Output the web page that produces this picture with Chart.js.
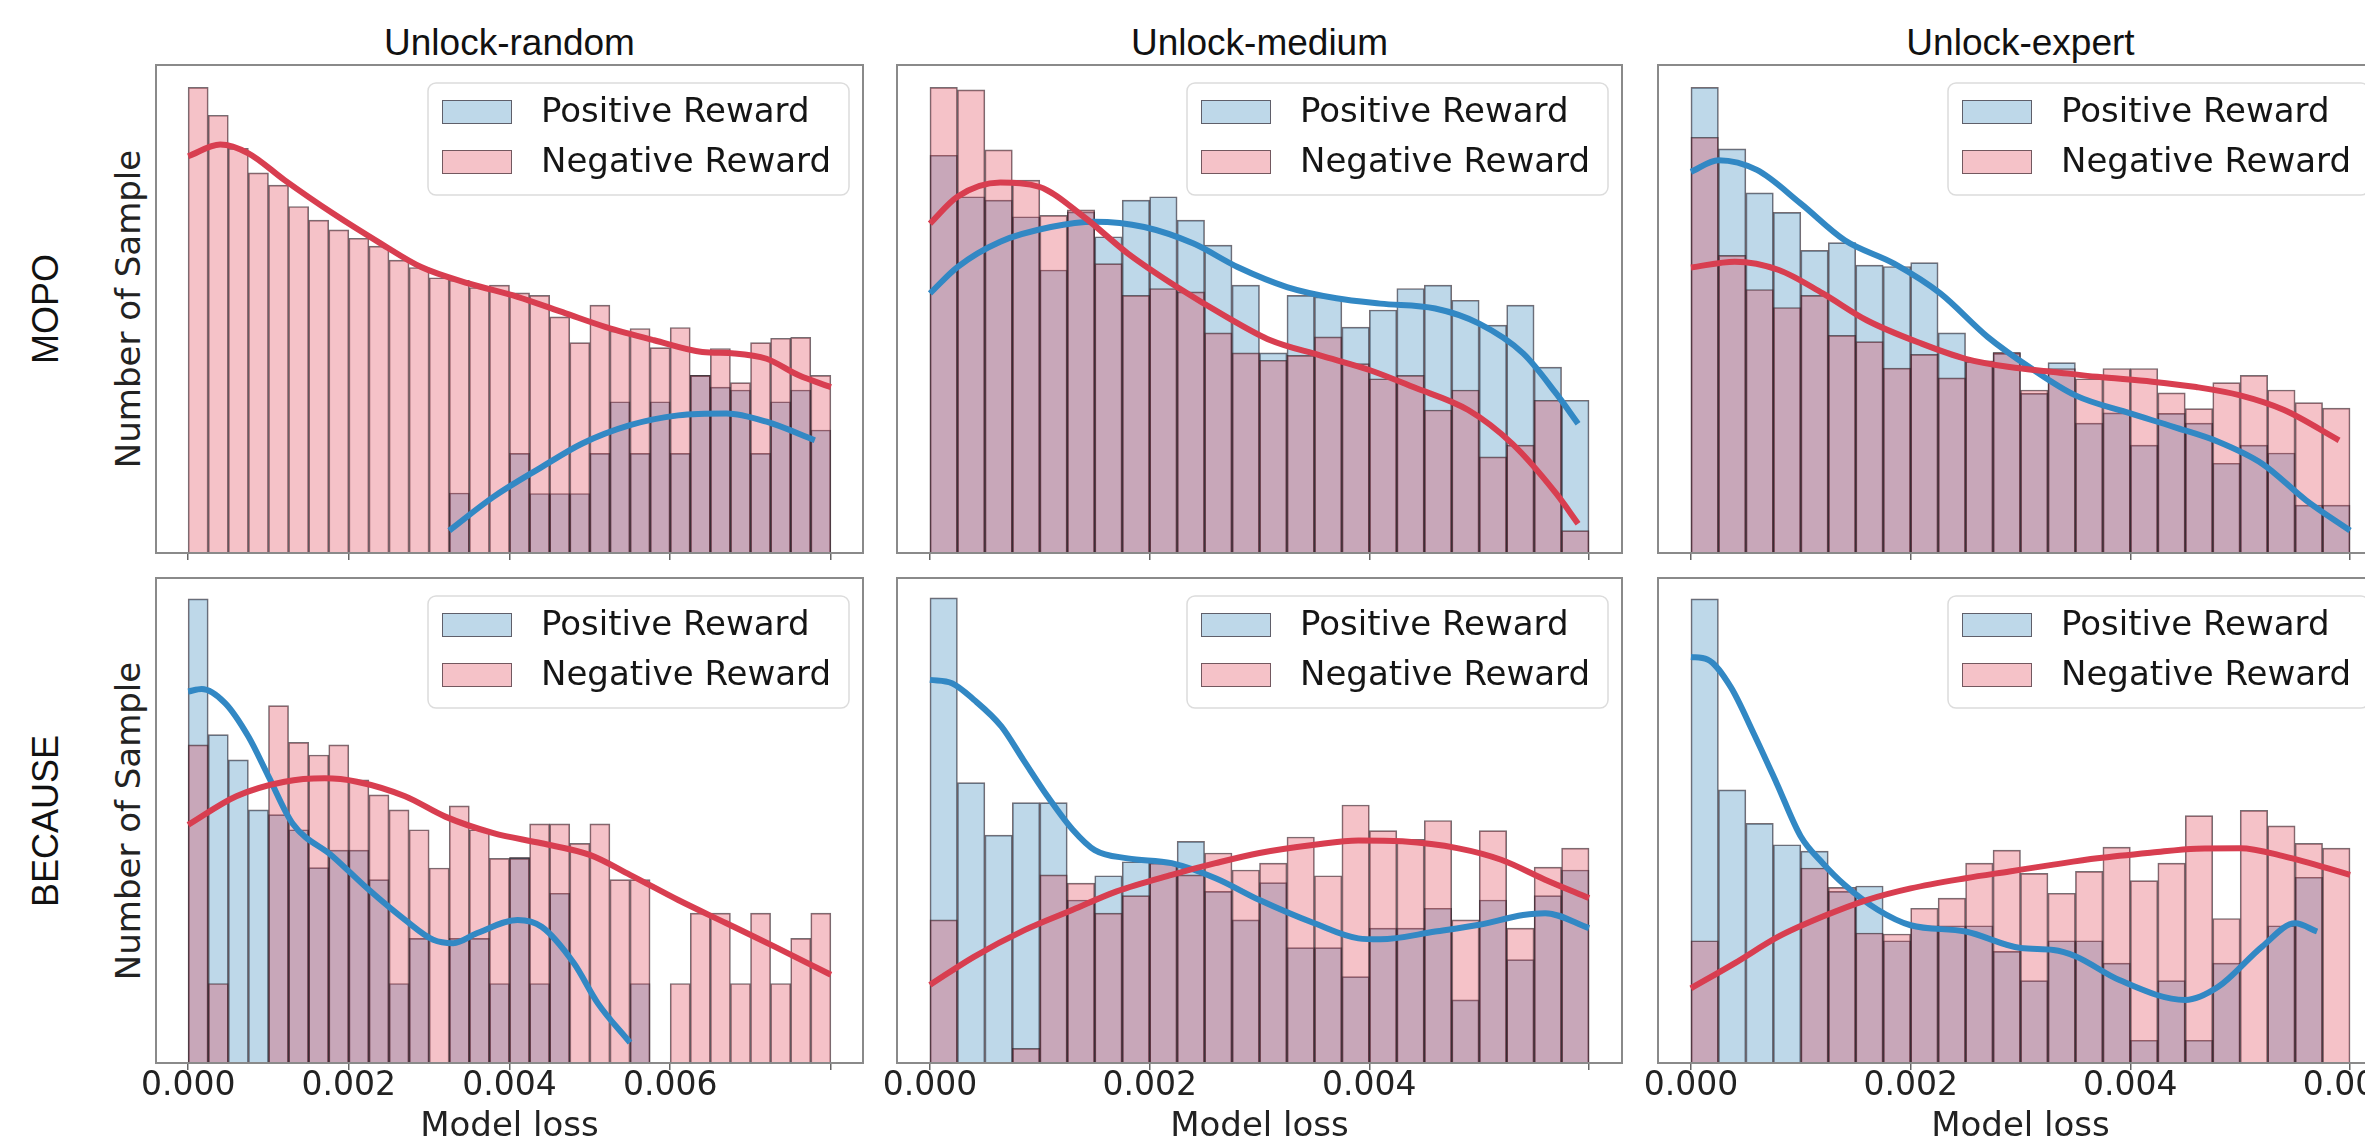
<!DOCTYPE html>
<html>
<head>
<meta charset="utf-8">
<script src="https://cdn.jsdelivr.net/npm/chart.js@4.4.0/dist/chart.umd.min.js"></script>
<style>
  body { margin: 0; width: 2365px; height: 1144px; overflow: hidden; background: #fff; position: relative; }
  .lbl { position: absolute; white-space: nowrap; line-height: 1; color: #111; }
  .title { font-family: "Liberation Sans", Arial, sans-serif; font-size: 37px; transform: translate(-50%, -50%); }
  .row { font-family: "Liberation Sans", Arial, sans-serif; font-size: 36px; transform: translate(-50%, -50%) rotate(-90deg); }
  .ylab { font-family: "DejaVu Sans", sans-serif; font-size: 34px; color: #222; transform: translate(-50%, -50%) rotate(-90deg); }
</style>
</head>
<body>
<script>
// bin width of every histogram (model loss)
const binWidth = 0.00025;
const xTickValues = [0, 0.002, 0.004, 0.006, 0.008];
const lastTickLabel = [0.006, 0.004, 0.006];
const columnTitles = ['Unlock-random', 'Unlock-medium', 'Unlock-expert'];
const rowLabels = ['MOPO', 'BECAUSE'];
const legendLabels = ['Positive Reward', 'Negative Reward'];

// bar heights, in % of the axis height (y axis is unlabelled)
// MOPO / Unlock-random
const mopoRandomPos = [0, 0, 0, 0, 0, 0, 0, 0, 0, 0, 0, 0, 0, 12.3, 0, 0, 20.4, 12.2, 12.2, 12.2, 20.4, 31, 20.4, 31, 20.4, 36.4, 34, 33.4, 20.4, 31, 33.4, 25.2];
const mopoRandomNeg = [95.4, 89.7, 82.9, 77.9, 75.4, 71, 68.2, 66.2, 64.5, 62.9, 60, 58.5, 56.4, 55.9, 54.4, 54.9, 53.3, 52.8, 48.4, 43.1, 50.8, 45.5, 46, 42.1, 46.2, 36.4, 41.9, 34.9, 43.1, 44, 44.2, 36.4];
const mopoRandomPosKde = [[0.00325, 4.6], [0.0038, 11.5], [0.0044, 17.6], [0.0049, 22.4], [0.0055, 26.2], [0.0061, 28.2], [0.0067, 28.6], [0.0072, 26.9], [0.0078, 23.1]];
const mopoRandomNegKde = [[0, 81.3], [0.0004, 83.7], [0.00075, 81.9], [0.0012, 76.4], [0.0018, 69.6], [0.0024, 63.4], [0.0029, 58.6], [0.0035, 55.2], [0.0041, 52.5], [0.0047, 49.1], [0.0052, 46.3], [0.0058, 43.6], [0.0064, 41.2], [0.0068, 40.9], [0.0072, 39.8], [0.0076, 36.4], [0.008, 34]];

// MOPO / Unlock-medium
const mopoMediumPos = [81.5, 73.0, 72.3, 68.9, 58.0, 69.9, 64.8, 72.3, 73.0, 68.2, 63.1, 54.9, 41.0, 52.8, 52.5, 46.3, 49.8, 54.2, 54.9, 51.8, 46.7, 50.8, 38.1, 31.3];
const mopoMediumNeg = [95.4, 94.9, 82.6, 76.4, 69.2, 70.3, 59.3, 52.8, 54.2, 53.5, 45.1, 41.0, 39.5, 40.5, 44.3, 38.8, 35.7, 36.4, 29.3, 33.4, 19.7, 22.1, 31.3, 4.6];
const mopoMediumPosKde = [[0, 53.2], [0.00025, 58.6], [0.00064, 63.8], [0.0011, 66.8], [0.0015, 67.9], [0.00195, 66.8], [0.0024, 63.4], [0.0028, 58.6], [0.00325, 54.5], [0.0037, 52.2], [0.0041, 51.1], [0.0046, 50.1], [0.005, 47], [0.0054, 40.9], [0.0057, 32.7], [0.0059, 26.5]];
const mopoMediumNegKde = [[0, 67.5], [0.00025, 73], [0.00064, 75.9], [0.001, 75], [0.0014, 68.9], [0.0018, 61.4], [0.00225, 54.5], [0.0027, 48.4], [0.0031, 43.6], [0.00355, 40.5], [0.004, 37.5], [0.0044, 34], [0.0049, 29.3], [0.0053, 22.4], [0.0057, 12.2], [0.0059, 6.0]];

// MOPO / Unlock-expert
const mopoExpertPos = [95.4, 82.8, 73.8, 69.8, 62.0, 63.6, 59.0, 58.7, 59.5, 45.1, 39.2, 40.9, 32.7, 39.0, 26.6, 28.7, 22.1, 28.6, 26.6, 18.4, 22.1, 20.5, 9.8, 9.8];
const mopoExpertNeg = [85.2, 61.0, 54.0, 50.3, 52.8, 44.6, 43.3, 37.9, 40.7, 35.9, 39.4, 41.1, 33.4, 37.8, 35.7, 37.8, 37.8, 32.8, 29.6, 34.9, 36.4, 33.4, 30.8, 29.7];
const mopoExpertPosKde = [[0, 78.1], [0.00025, 80.5], [0.0006, 78.5], [0.001, 71.6], [0.0014, 64.1], [0.00185, 59.3], [0.00227, 53.2], [0.0027, 44.3], [0.0031, 37.8], [0.0035, 32.3], [0.004, 28.6], [0.0044, 25.8], [0.0048, 22.8], [0.0052, 18.3], [0.0056, 10.8], [0.006, 4.6]];
const mopoExpertNegKde = [[0, 58.5], [0.0004, 59.7], [0.0008, 58], [0.0012, 53.2], [0.0016, 47.7], [0.0021, 42.9], [0.0025, 39.8], [0.0029, 38.1], [0.0033, 37.1], [0.0037, 36.1], [0.0042, 35.1], [0.0046, 34], [0.005, 32.3], [0.0054, 29.3], [0.0059, 23.1]];

// BECAUSE / Unlock-random
const becauseRandomPos = [95.7, 67.7, 62.5, 52.2, 51.2, 48.1, 40.3, 43.9, 43.9, 37.8, 16.4, 25.7, 0, 25.7, 25.7, 16.4, 42.4, 16.4, 35.0, 0, 0, 0, 16.4, 0, 0, 0, 0, 0, 0, 0, 0, 0];
const becauseRandomNeg = [65.6, 16.4, 0, 0, 73.7, 66.1, 63.5, 65.6, 58.4, 55.3, 52.2, 48.1, 40.2, 53.0, 48.1, 42.2, 42.2, 49.3, 49.3, 45.3, 49.3, 37.8, 37.8, 0, 16.4, 30.9, 30.9, 16.4, 30.9, 16.4, 25.7, 30.9];
const becauseRandomPosKde = [[0, 76.6], [0.00017, 77.1], [0.00046, 74.2], [0.00075, 67.3], [0.001, 59.1], [0.0013, 49.4], [0.0018, 42.6], [0.00225, 35.7], [0.0027, 29.5], [0.00305, 25.4], [0.0033, 24.7], [0.0036, 26.8], [0.0041, 29.5], [0.0044, 28.1], [0.0048, 20.6], [0.0051, 12.3], [0.0055, 4.2]];
const becauseRandomNegKde = [[0, 49.1], [0.0006, 55], [0.0012, 58], [0.0017, 58.7], [0.0021, 58], [0.0027, 55], [0.0032, 50.8], [0.0038, 47.4], [0.0044, 45.3], [0.005, 42.9], [0.0055, 38.8], [0.0061, 33.6], [0.0067, 28.8], [0.0073, 24], [0.008, 18.2]];

// BECAUSE / Unlock-medium
const becauseMediumPos = [95.9, 57.8, 47.0, 53.7, 53.7, 33.6, 38.6, 41.5, 41.2, 45.7, 35.4, 29.5, 37.2, 23.8, 23.8, 17.8, 27.8, 27.8, 31.9, 13.0, 33.6, 21.3, 34.5, 39.8];
const becauseMediumNeg = [29.5, 0, 0, 3, 38.8, 37.1, 30.9, 34.5, 41.3, 38.8, 43.3, 39.8, 41.2, 46.6, 38.6, 53.2, 47.9, 46.1, 50.0, 29.5, 47.9, 27.8, 40.4, 44.3];
const becauseMediumPosKde = [[0, 79], [0.0002, 78.3], [0.0004, 74.9], [0.00065, 69.4], [0.00085, 62.5], [0.00107, 55], [0.0013, 48.1], [0.0015, 43.9], [0.0018, 42.2], [0.0022, 41.2], [0.0026, 38.1], [0.003, 33.6], [0.0035, 28.8], [0.0039, 25.7], [0.0041, 25.5], [0.0046, 27.1], [0.005, 28.5], [0.0054, 30.5], [0.0056, 30.9], [0.006, 27.8]];
const becauseMediumNegKde = [[0, 16.1], [0.0004, 21.9], [0.00086, 27.4], [0.0013, 31.6], [0.0017, 35.4], [0.0022, 38.8], [0.0026, 41.2], [0.003, 43.3], [0.0035, 45], [0.0039, 45.9], [0.0043, 45.7], [0.0048, 44.3], [0.0052, 41.9], [0.0056, 37.8], [0.006, 34]];

// BECAUSE / Unlock-expert
const becauseExpertPos = [95.7, 56.3, 49.4, 45.0, 43.7, 35.4, 36.5, 25.2, 28.3, 28.3, 28.3, 23.0, 17.0, 25.2, 25.2, 20.6, 4.7, 17.0, 4.7, 20.6, 0, 28.3, 38.3, 0];
const becauseExpertNeg = [25.2, 0, 0, 0, 40.2, 36.2, 26.8, 26.6, 31.9, 34.0, 41.2, 43.9, 39.1, 35.0, 39.5, 44.5, 37.6, 41.2, 51.0, 29.8, 52.1, 48.9, 45.3, 44.3];
const becauseExpertPosKde = [[0, 83.7], [0.00015, 83.2], [0.00036, 77.6], [0.00057, 68], [0.00078, 57.7], [0.001, 46.7], [0.0012, 41.2], [0.0014, 36.7], [0.0017, 31.6], [0.002, 28.4], [0.0025, 27.1], [0.003, 23.7], [0.0033, 23.3], [0.0035, 22], [0.0039, 17.1], [0.0045, 13], [0.0048, 15.7], [0.0052, 24], [0.0055, 28.8], [0.0057, 27.1]];
const becauseExpertNegKde = [[0, 15.4], [0.0004, 20.6], [0.0008, 26.1], [0.0012, 30.2], [0.0016, 33.6], [0.002, 36], [0.0025, 38.1], [0.0029, 39.5], [0.0033, 40.9], [0.0037, 42.2], [0.0042, 43.4], [0.0046, 44.2], [0.005, 44.3], [0.0054, 42.6], [0.006, 38.8]];

// page layout of the six axes frames
const colLeft = [156, 897, 1658];
const colWidth = [707, 725, 725];
const rowTop = [65, 578];
const rowHeight = [488, 485];

const blueFill = 'rgba(31,119,180,0.29)';
const pinkFill = 'rgba(222,52,72,0.3)';
const blueLine = 'rgb(50,136,196)';
const redLine = 'rgb(216,62,80)';
const edgeColor = 'rgba(45,30,38,0.65)';

Chart.defaults.font.family = '"DejaVu Sans", sans-serif';

const framePlugin = {
  id: 'frame',
  afterDraw(chart) {
    const { ctx, chartArea: a } = chart;
    ctx.save();
    ctx.strokeStyle = '#8a8a8a';
    ctx.lineWidth = 2;
    ctx.strokeRect(a.left, a.top, a.right - a.left, a.bottom - a.top);
    ctx.restore();
  }
};

const legendPlugin = {
  id: 'rewardLegend',
  afterDraw(chart) {
    const { ctx, chartArea: a } = chart;
    const w = 421, h = 112, r = 8;
    const x = a.right - 14 - w, y = a.top + 18;
    ctx.save();
    ctx.beginPath();
    ctx.moveTo(x + r, y);
    ctx.arcTo(x + w, y, x + w, y + h, r);
    ctx.arcTo(x + w, y + h, x, y + h, r);
    ctx.arcTo(x, y + h, x, y, r);
    ctx.arcTo(x, y, x + w, y, r);
    ctx.closePath();
    ctx.fillStyle = 'rgba(255,255,255,0.85)';
    ctx.fill();
    ctx.strokeStyle = '#dcdcdc';
    ctx.lineWidth = 1.5;
    ctx.stroke();
    const fills = [blueFill, pinkFill];
    ctx.font = '34px "DejaVu Sans"';
    ctx.textBaseline = 'middle';
    legendLabels.forEach((label, i) => {
      const py = y + 17 + i * 50;
      ctx.fillStyle = '#fff';
      ctx.fillRect(x + 14, py, 70, 24);
      ctx.fillStyle = fills[i];
      ctx.fillRect(x + 14, py, 70, 24);
      ctx.strokeStyle = edgeColor;
      ctx.lineWidth = 1;
      ctx.strokeRect(x + 14.5, py + 0.5, 69, 23);
      ctx.fillStyle = '#151515';
      ctx.fillText(label, x + 113, py + 13);
    });
    ctx.restore();
  }
};

function addLabel(cls, text, x, y) {
  const d = document.createElement('div');
  d.className = 'lbl ' + cls;
  d.textContent = text;
  d.style.left = x + 'px';
  d.style.top = y + 'px';
  document.body.appendChild(d);
}

function panel(col, row, pos, neg, posKde, negKde) {
  const PAD = 60, PAD_T = 10;
  const axisH = row === 1 ? 84 : 14;
  const L = colLeft[col], T = rowTop[row], W = colWidth[col], H = rowHeight[row];
  const cv = document.createElement('canvas');
  cv.width = W + 2 * PAD;
  cv.height = PAD_T + H + axisH;
  cv.style.cssText = `position:absolute;left:${L - PAD}px;top:${T - PAD_T}px;width:${cv.width}px;height:${cv.height}px`;
  document.body.appendChild(cv);

  const xMax = pos.length * binWidth;
  const toBars = arr => arr.map((v, i) => ({ x: (i + 0.5) * binWidth, y: v }));
  const toPts = arr => arr.map(p => ({ x: p[0], y: p[1] }));
  const barStyle = { type: 'bar', borderColor: edgeColor, borderWidth: 1, grouped: false,
    barPercentage: 1, categoryPercentage: 1 };
  const lineStyle = { type: 'line', borderWidth: 6, pointRadius: 0, cubicInterpolationMode: 'monotone',
    borderCapStyle: 'butt', fill: false };

  new Chart(cv, {
    type: 'bar',
    data: {
      datasets: [
        { ...lineStyle, label: legendLabels[1], data: toPts(negKde), borderColor: redLine, order: 0 },
        { ...lineStyle, label: legendLabels[0], data: toPts(posKde), borderColor: blueLine, order: 1 },
        { ...barStyle, label: legendLabels[1], data: toBars(neg), backgroundColor: pinkFill, order: 2 },
        { ...barStyle, label: legendLabels[0], data: toBars(pos), backgroundColor: blueFill, order: 3 }
      ]
    },
    options: {
      responsive: false,
      animation: false,
      devicePixelRatio: 1,
      layout: { padding: { left: PAD, right: PAD, top: PAD_T, bottom: 0 } },
      plugins: { legend: { display: false }, tooltip: { enabled: false } },
      scales: {
        x: {
          type: 'linear',
          min: -0.05 * xMax,
          max: 1.05 * xMax,
          offset: false,
          afterBuildTicks: s => { s.ticks = xTickValues.filter(v => v <= xMax + 1e-9).map(v => ({ value: v })); },
          afterFit: s => { s.height = axisH; },
          grid: { display: true, drawOnChartArea: false, drawTicks: true, tickLength: 7, color: '#666', lineWidth: 1.5, offset: false },
          border: { display: false },
          ticks: {
            autoSkip: false, maxRotation: 0, padding: 0, color: '#222',
            font: { size: 33, lineHeight: 1 },
            callback: v => (row === 1 && v <= lastTickLabel[col] + 1e-6) ? v.toFixed(3) : ''
          },
          title: { display: row === 1, text: 'Model loss', color: '#222',
            font: { size: 34, lineHeight: 1 }, padding: { top: 0, bottom: 3 } }
        },
        y: { display: false, min: 0, max: 100 }
      }
    },
    plugins: [framePlugin, legendPlugin]
  });
}

columnTitles.forEach((t, c) => addLabel('title', t, colLeft[c] + colWidth[c] / 2, 42));
rowLabels.forEach((t, r) => {
  const cy = rowTop[r] + rowHeight[r] / 2;
  addLabel('row', t, 46, cy);
  addLabel('ylab', 'Number of Sample', 128, cy);
});

panel(0, 0, mopoRandomPos, mopoRandomNeg, mopoRandomPosKde, mopoRandomNegKde);
panel(1, 0, mopoMediumPos, mopoMediumNeg, mopoMediumPosKde, mopoMediumNegKde);
panel(2, 0, mopoExpertPos, mopoExpertNeg, mopoExpertPosKde, mopoExpertNegKde);
panel(0, 1, becauseRandomPos, becauseRandomNeg, becauseRandomPosKde, becauseRandomNegKde);
panel(1, 1, becauseMediumPos, becauseMediumNeg, becauseMediumPosKde, becauseMediumNegKde);
panel(2, 1, becauseExpertPos, becauseExpertNeg, becauseExpertPosKde, becauseExpertNegKde);
</script>
</body>
</html>
